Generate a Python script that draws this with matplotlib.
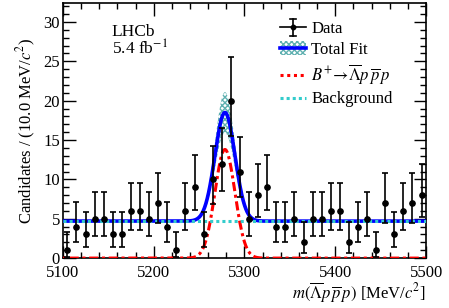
import numpy as np
import matplotlib
matplotlib.use('Agg')
import matplotlib.pyplot as plt
from matplotlib.patches import Rectangle
from matplotlib.lines import Line2D
from matplotlib.legend_handler import HandlerBase
from matplotlib.ticker import MultipleLocator
import math

# Binned data (10 MeV bins)
bin_centers = np.arange(5105, 5500, 10)
counts = [1, 4, 3, 5, 5, 3, 3, 6, 6, 5,
          7, 4, 1, 6, 9, 3, 10, 12, 20, 11,
          5, 8, 9, 4, 4, 5, 2, 5, 5, 6,
          6, 2, 4, 5, 1, 7, 3, 6, 7, 8]

# Fit parameters
bkg_level = 4.7
sig_mean = 5278.5
sig_sigma = 11.0
sig_peak = 13.8
band_frac = 0.18


def poisson_cdf(n, mu):
    s = 0.0
    term = math.exp(-mu)
    for k in range(n + 1):
        if k > 0:
            term *= mu / k
        s += term
    return s


def garwood(n, alpha=0.1587):
    # upper: P(X<=n; mu) = alpha
    lo, hi = n, n + 20.0
    for _ in range(80):
        mid = 0.5 * (lo + hi)
        if poisson_cdf(n, mid) > alpha:
            lo = mid
        else:
            hi = mid
    up = 0.5 * (lo + hi)
    if n == 0:
        return 0.0, up
    # lower: P(X>=n; mu) = alpha
    lo, hi = 0.0, float(n)
    for _ in range(80):
        mid = 0.5 * (lo + hi)
        if 1 - poisson_cdf(n - 1, mid) < alpha:
            lo = mid
        else:
            hi = mid
    return 0.5 * (lo + hi), up


plt.rcParams.update({
    'font.family': 'Liberation Serif',
    'mathtext.fontset': 'stix',
    'font.size': 12,
})

fig = plt.figure(figsize=(4.49, 3.08), dpi=100)
ax = fig.add_axes([0.140, 0.162, 0.809, 0.828])

m = np.linspace(5100, 5500, 801)
sig = sig_peak * np.exp(-0.5 * ((m - sig_mean) / sig_sigma) ** 2)
bkg = np.full_like(m, bkg_level)
total = sig + bkg

band_color = '#5fb0b0'
ax.fill_between(m, bkg + sig * (1 + band_frac) + 0.1, bkg + sig * (1 - band_frac) - 0.1,
                facecolor='white', edgecolor=band_color, hatch='xxxxxx', linewidth=0, zorder=1)
ax.plot(m, total, color='#0000ff', lw=2.6, zorder=3)
ax.plot(m, sig, color='#ff0000', lw=2.2, ls=(0, (1, 1.2, 3, 1.2)), zorder=4)
ax.plot(m, bkg, color='#33cccc', lw=2.2, ls=(0, (1, 1)), zorder=4)

errs = np.array([garwood(n) for n in counts])
yerr = np.array([np.array(counts) - errs[:, 0], errs[:, 1] - np.array(counts)])
ax.errorbar(bin_centers, counts, yerr=yerr, fmt='o', color='black', ms=3.8,
            elinewidth=1.2, capsize=2.5, capthick=1.2, zorder=5)

ax.set_xlim(5100, 5500)
ax.set_ylim(0, 32.4)
ax.xaxis.set_major_locator(MultipleLocator(100))
ax.xaxis.set_minor_locator(MultipleLocator(20))
ax.yaxis.set_major_locator(MultipleLocator(5))
ax.yaxis.set_minor_locator(MultipleLocator(1))
ax.tick_params(which='both', direction='in', top=True, right=True, width=1)
ax.tick_params(which='major', length=9, labelsize=12, pad=2)
ax.tick_params(axis='x', which='major', pad=5)
ax.tick_params(which='minor', length=4.5)
for s in ax.spines.values():
    s.set_linewidth(1.2)

ax.set_ylabel(r'Candidates / (10.0 MeV/$c^2$)', fontsize=12, labelpad=4)
ax.set_xlabel(r'$m(\overline{\mathit{\Lambda}}p\,\overline{p}\,p)$ [MeV/$c^2$]', fontsize=12,
              loc='right', labelpad=0)

ax.text(0.135, 0.886, 'LHCb', transform=ax.transAxes, fontsize=12.5, va='center')
ax.text(0.135, 0.82, r'5.4 fb$^{-1}$', transform=ax.transAxes, fontsize=12.5, va='center')


class DataHandler(HandlerBase):
    def create_artists(self, legend, orig, x0, y0, w, h, fs, trans):
        cy = y0 + h / 2
        l1 = Line2D([x0, x0 + w], [cy, cy], color='black', lw=1.2, transform=trans)
        l2 = Line2D([x0 + w / 2] * 2, [cy - h * 0.7, cy + h * 0.7], color='black', lw=1.2, transform=trans)
        c1 = Line2D([x0 + w / 2 - 2, x0 + w / 2 + 2], [cy + h * 0.7] * 2, color='black', lw=1.2, transform=trans)
        c2 = Line2D([x0 + w / 2 - 2, x0 + w / 2 + 2], [cy - h * 0.7] * 2, color='black', lw=1.2, transform=trans)
        mk = Line2D([x0 + w / 2], [cy], marker='o', ms=3.2, color='black', transform=trans)
        return [l1, l2, c1, c2, mk]


class FitHandler(HandlerBase):
    def create_artists(self, legend, orig, x0, y0, w, h, fs, trans):
        r = Rectangle((x0, y0 - h * 0.1), w, h * 1.2, facecolor='white', edgecolor=band_color,
                      hatch='xxxxxx', lw=0, transform=trans)
        ln = Line2D([x0, x0 + w], [y0 + h / 2] * 2, color='#0000ff', lw=2.6, transform=trans)
        return [r, ln]


h_data = Line2D([], [])
h_fit = Rectangle((0, 0), 1, 1)
h_sig = Line2D([], [], color='#ff0000', lw=2.2, ls=(0, (1, 1.2)))
h_bkg = Line2D([], [], color='#33cccc', lw=2.2, ls=(0, (1, 1)))
ax.legend([h_data, h_fit, h_sig, h_bkg],
          ['Data', 'Total Fit', r'$B^{+}\!\to\!\overline{\mathit{\Lambda}}p\,\overline{p}\,p$', 'Background'],
          handler_map={h_data: DataHandler(), h_fit: FitHandler()},
          loc='upper left', bbox_to_anchor=(0.58, 0.955), frameon=False, fontsize=12,
          handlelength=1.55, handletextpad=0.3, labelspacing=0.28, borderaxespad=0)

fig.savefig('out.png', dpi=100)
